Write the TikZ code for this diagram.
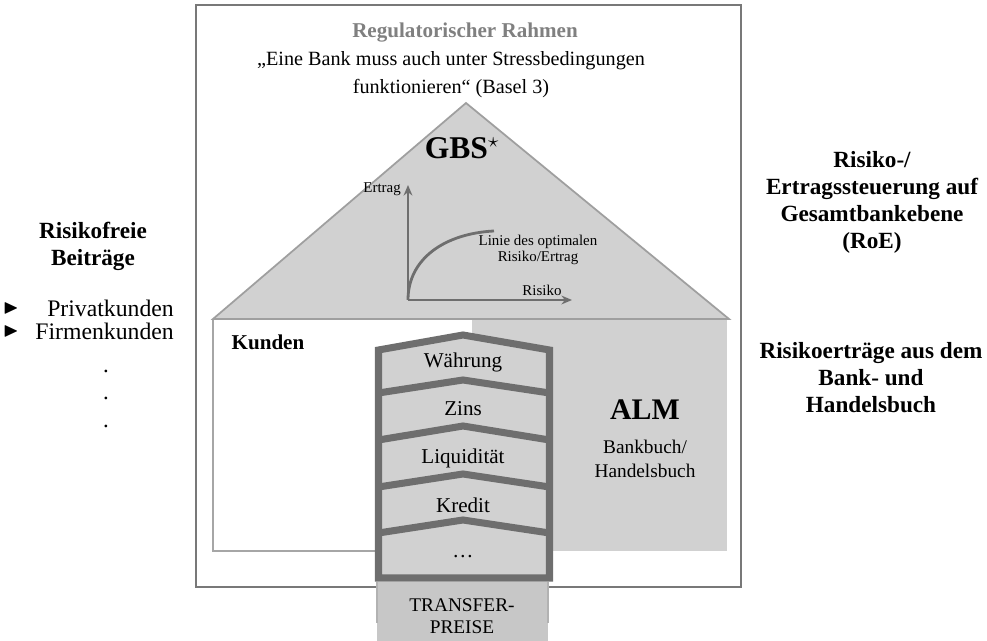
\documentclass[tikz,border=0pt]{standalone}
\usepackage{amssymb}
\usepackage{fontspec}
\setmainfont{Liberation Serif}
\usetikzlibrary{arrows.meta}

\definecolor{framegray}{gray}{0.47}
\definecolor{roofgray}{gray}{0.82}
\definecolor{stackgray}{gray}{0.43}
\definecolor{titlegray}{gray}{0.5}
\definecolor{boxgray}{gray}{0.78}

\tikzset{
  stackline/.style={draw=stackgray, line width=4pt},
  risklabel/.style={font=\fontsize{12}{13}\selectfont},
  sidetext/.style={align=center, font=\fontsize{13.2}{15.4}\selectfont\bfseries},
  listtext/.style={anchor=east, font=\fontsize{13.5}{14}\selectfont},
  axis/.style={draw=stackgray, line width=1.3pt, -{Stealth[length=6pt,width=5pt]}},
  graphlabel/.style={font=\fontsize{8.5}{9.5}\selectfont, align=center},
}

\begin{document}
\begin{tikzpicture}
    \useasboundingbox (0,0) rectangle (19.74,12.82);

    % Outer frame
    \draw[framegray, line width=1.4pt] (3.92,1.08) rectangle (14.82,12.72);

    % Regulatory text
    \node[font=\fontsize{12}{14}\selectfont\bfseries, text=titlegray] (rahmen) at (9.3,12.16) {Regulatorischer Rahmen};
    \node[font=\fontsize{11.5}{15.8}\selectfont, align=center] (basel) at (9.02,11.33)
        {„Eine Bank muss auch unter Stressbedingungen\\funktionieren“ (Basel 3)};

    % House body: Kunden (white) and ALM (gray)
    \fill[roofgray] (9.44,6.44) rectangle (14.54,1.8);
    \draw[gray!70, line width=1.1pt] (9.44,1.8) -- (4.26,1.8) -- (4.26,6.44);

    % Roof
    \filldraw[fill=roofgray, draw=gray!75, line width=1pt] (4.26,6.44) -- (9.32,10.76) -- (14.58,6.44) -- cycle;
    \node[font=\fontsize{18}{20}\selectfont\bfseries] (gbs) at (9.24,9.86) {GBS$^{\star}$};

    % Risk/return graph
    \coordinate (origin) at (8.16,6.82);
    \coordinate (ytip) at (8.16,9.12);
    \coordinate (xtip) at (11.44,6.82);
    \coordinate (curveend) at (9.88,8.2);
    \draw[axis] (origin) -- (ytip);
    \draw[axis] (origin) -- (xtip);
    \draw[stackgray, line width=1.6pt] (origin) .. controls (8.16,7.65) and (8.9,8.15) .. (curveend);
    \node[graphlabel, anchor=east] (ertrag) at (8.14,9.04) {Ertrag};
    \node[graphlabel] (risiko) at (10.84,7.02) {Risiko};
    \node[graphlabel] (linie) at (10.76,7.82) {Linie des optimalen\\Risiko/Ertrag};

    % Kunden and ALM labels
    \node[font=\fontsize{12}{14}\selectfont\bfseries] (kunden) at (5.36,5.98) {Kunden};
    \node[font=\fontsize{17}{19}\selectfont\bfseries] (alm) at (12.9,4.62) {ALM};
    \node[font=\fontsize{11}{13.5}\selectfont, align=center] (buch) at (12.9,3.64) {Bankbuch/\\Handelsbuch};

    % Risk stack
    \filldraw[stackline, fill=roofgray] (7.57,1.26) -- (7.57,5.82) -- (9.26,6.12) -- (10.99,5.82) -- (10.99,1.26) -- cycle;
    \foreach \a/\s in {5.22/4.96, 4.3/4.02, 3.34/3.08, 2.42/2.16}
        \draw[stackline] (7.57,\s) -- (9.26,\a) -- (10.99,\s);
    \node[risklabel] (waehrung) at (9.26,5.58) {Währung};
    \node[risklabel] (zins) at (9.26,4.64) {Zins};
    \node[risklabel] (liquiditaet) at (9.26,3.66) {Liquidität};
    \node[risklabel] (kredit) at (9.26,2.72) {Kredit};
    \node[risklabel] (weitere) at (9.26,1.68) {\dots};

    % Transfer prices
    \fill[boxgray] (7.54,0) rectangle (10.96,1.18);
    \draw[gray!60, line width=0.8pt] (7.54,0.36) -- (7.54,1.18);
    \draw[gray!60, line width=0.8pt] (10.96,0.36) -- (10.96,1.18);
    \node[font=\fontsize{11}{12.5}\selectfont, align=center] (transfer) at (9.24,0.5) {TRANSFER-\\PREISE};

    % Left side
    \node[sidetext] (risikofrei) at (1.86,7.9) {Risikofreie\\Beiträge};
    \node[scale=1.15] (bulletA) at (0.22,6.66) {$\blacktriangleright$};
    \node[scale=1.15] (bulletB) at (0.22,6.2) {$\blacktriangleright$};
    \node[listtext] (privat) at (3.6,6.66) {Privatkunden};
    \node[listtext] (firmen) at (3.6,6.2) {Firmenkunden};
    \foreach \y in {5.4, 4.86, 4.3}
        \node[font=\fontsize{13}{14}\selectfont] at (2.12,\y) {.};

    % Right side
    \node[sidetext] (roe) at (17.44,8.77) {Risiko-/\\Ertragssteuerung auf\\Gesamtbankebene\\(RoE)};
    \node[sidetext] (risikoertrag) at (17.42,5.27) {Risikoerträge aus dem\\Bank- und\\Handelsbuch};

\end{tikzpicture}
\end{document}
